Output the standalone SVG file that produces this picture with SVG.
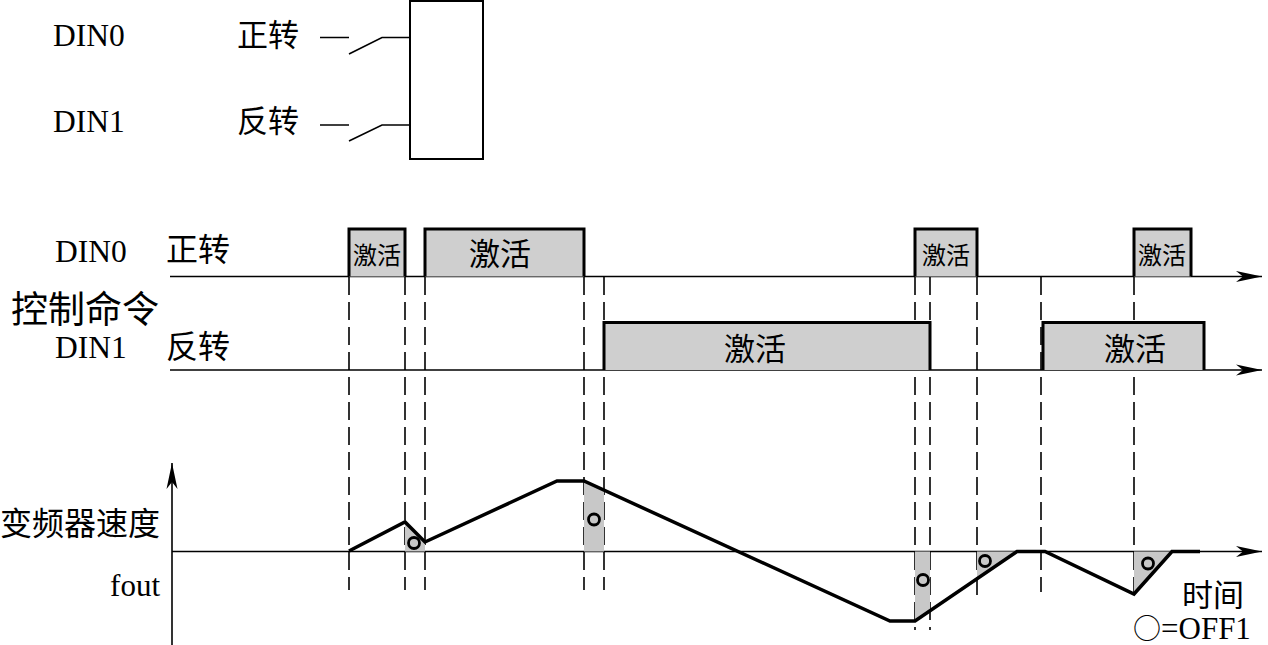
<svg xmlns="http://www.w3.org/2000/svg" width="1268" height="645" viewBox="0 0 1268 645">
<style>
.lat{font-family:"Liberation Serif","Noto Sans CJK SC",serif;fill:#000}
.cjk{font-family:"Liberation Serif","Noto Sans CJK SC",sans-serif;fill:#000}
.thin{stroke:#000;stroke-width:1.6;fill:none}
.dash{stroke:#000;stroke-width:1.6;stroke-dasharray:18 7;fill:none}
.pulse{stroke:#000;stroke-width:3;fill:#cfcfcf}
.curve{stroke:#000;stroke-width:3.5;fill:none;stroke-linejoin:miter}
.shade{fill:#c8c8c8;stroke:none}
.off{fill:none;stroke:#000;stroke-width:2.8}
</style>
<defs>
<marker id="arr" markerUnits="userSpaceOnUse" markerWidth="30" markerHeight="14" refX="26" refY="7" orient="auto">
<path d="M0,1.5 L26,7 L0,12.5 L7,7 Z" fill="#000"/>
</marker>
</defs>
<rect width="1268" height="645" fill="#fff"/>

<g id="top-switches">
<text class="lat" x="53" y="46" font-size="31.5">DIN0</text>
<text class="cjk" x="237" y="46" font-size="31">正转</text>
<text class="lat" x="53" y="132" font-size="31.5">DIN1</text>
<text class="cjk" x="237" y="132" font-size="31">反转</text>
<path class="thin" d="M320,37.5 H349 M349,54 L382,37.5 H410"/>
<path class="thin" d="M320,125 H349 M349,141 L382,125 H410"/>
<rect x="410" y="1" width="73" height="158" fill="none" stroke="#000" stroke-width="2"/>
</g>

<g id="labels">
<text class="lat" x="55" y="262" font-size="31.5">DIN0</text>
<text class="cjk" x="166" y="261" font-size="32">正转</text>
<text class="cjk" x="11" y="323" font-size="37">控制命令</text>
<text class="lat" x="55" y="358" font-size="31.5">DIN1</text>
<text class="cjk" x="166" y="358" font-size="32">反转</text>
<text class="cjk" x="0" y="535" font-size="32">变频器速度</text>
<text class="lat" x="160" y="596" font-size="31" text-anchor="end">fout</text>
<text class="cjk" x="1182" y="606" font-size="31">时间</text>
<text class="lat" x="1133" y="639" font-size="31"><tspan font-family="'Noto Sans CJK SC',sans-serif" font-size="28">○</tspan>=OFF1</text>
</g>

<g id="connectors">
<line class="thin" x1="170" y1="276.5" x2="1262" y2="276.5" marker-end="url(#arr)"/>
<line class="thin" x1="170" y1="370" x2="1262" y2="370" marker-end="url(#arr)"/>
<line class="thin" x1="172" y1="551.5" x2="1262" y2="551.5" marker-end="url(#arr)"/>
<line class="thin" x1="172" y1="645" x2="172" y2="463" marker-end="url(#arr)"/>
<path class="dash" d="M349,277 V590 M405,277 V590 M425,277 V590 M584,277 V590 M604,277 V590 M915,277 V630 M930,277 V630 M977,277 V595 M1041,277 V592 M1134,277 V595"/>
</g>

<g id="din0-pulses">
<path class="pulse" d="M349,276.5 V229 H405 V276.5"/>
<text class="cjk" x="377" y="264" font-size="24" text-anchor="middle">激活</text>
<path class="pulse" d="M425,276.5 V229 H584 V276.5"/>
<text class="cjk" x="500" y="265" font-size="31" text-anchor="middle">激活</text>
<path class="pulse" d="M915,276.5 V229 H977 V276.5"/>
<text class="cjk" x="946" y="264" font-size="24" text-anchor="middle">激活</text>
<path class="pulse" d="M1134,276.5 V229 H1191 V276.5"/>
<text class="cjk" x="1162" y="264" font-size="24" text-anchor="middle">激活</text>
</g>

<g id="din1-pulses">
<path class="pulse" d="M604,370 V322.5 H930 V370"/>
<text class="cjk" x="755" y="360" font-size="31" text-anchor="middle">激活</text>
<path class="pulse" d="M1043,370 V322.5 H1204 V370"/>
<text class="cjk" x="1135" y="360" font-size="31" text-anchor="middle">激活</text>
</g>

<g id="speed-curve">
<polygon class="shade" points="405,522 425,542 425,551.5 405,551.5"/>
<polygon class="shade" points="584,481 604,490 604,551.5 584,551.5"/>
<polygon class="shade" points="915,551.5 930,551.5 930,611 915,621"/>
<polygon class="shade" points="977,551.5 1017,551.5 977,578"/>
<polygon class="shade" points="1134,551.5 1172,551.5 1134,594"/>
<polyline class="curve" points="349,551 405,522 425,542 557,481 584,481 890,621 915,621 1017,551.5 1045,551.5 1134,594 1172,551.5 1200,551.5"/>
<circle class="off" cx="414" cy="543" r="5.5"/>
<circle class="off" cx="594" cy="519.5" r="5.5"/>
<circle class="off" cx="923" cy="580" r="5.5"/>
<circle class="off" cx="985" cy="561" r="5.5"/>
<circle class="off" cx="1148" cy="563.5" r="5.5"/>
</g>
</svg>
